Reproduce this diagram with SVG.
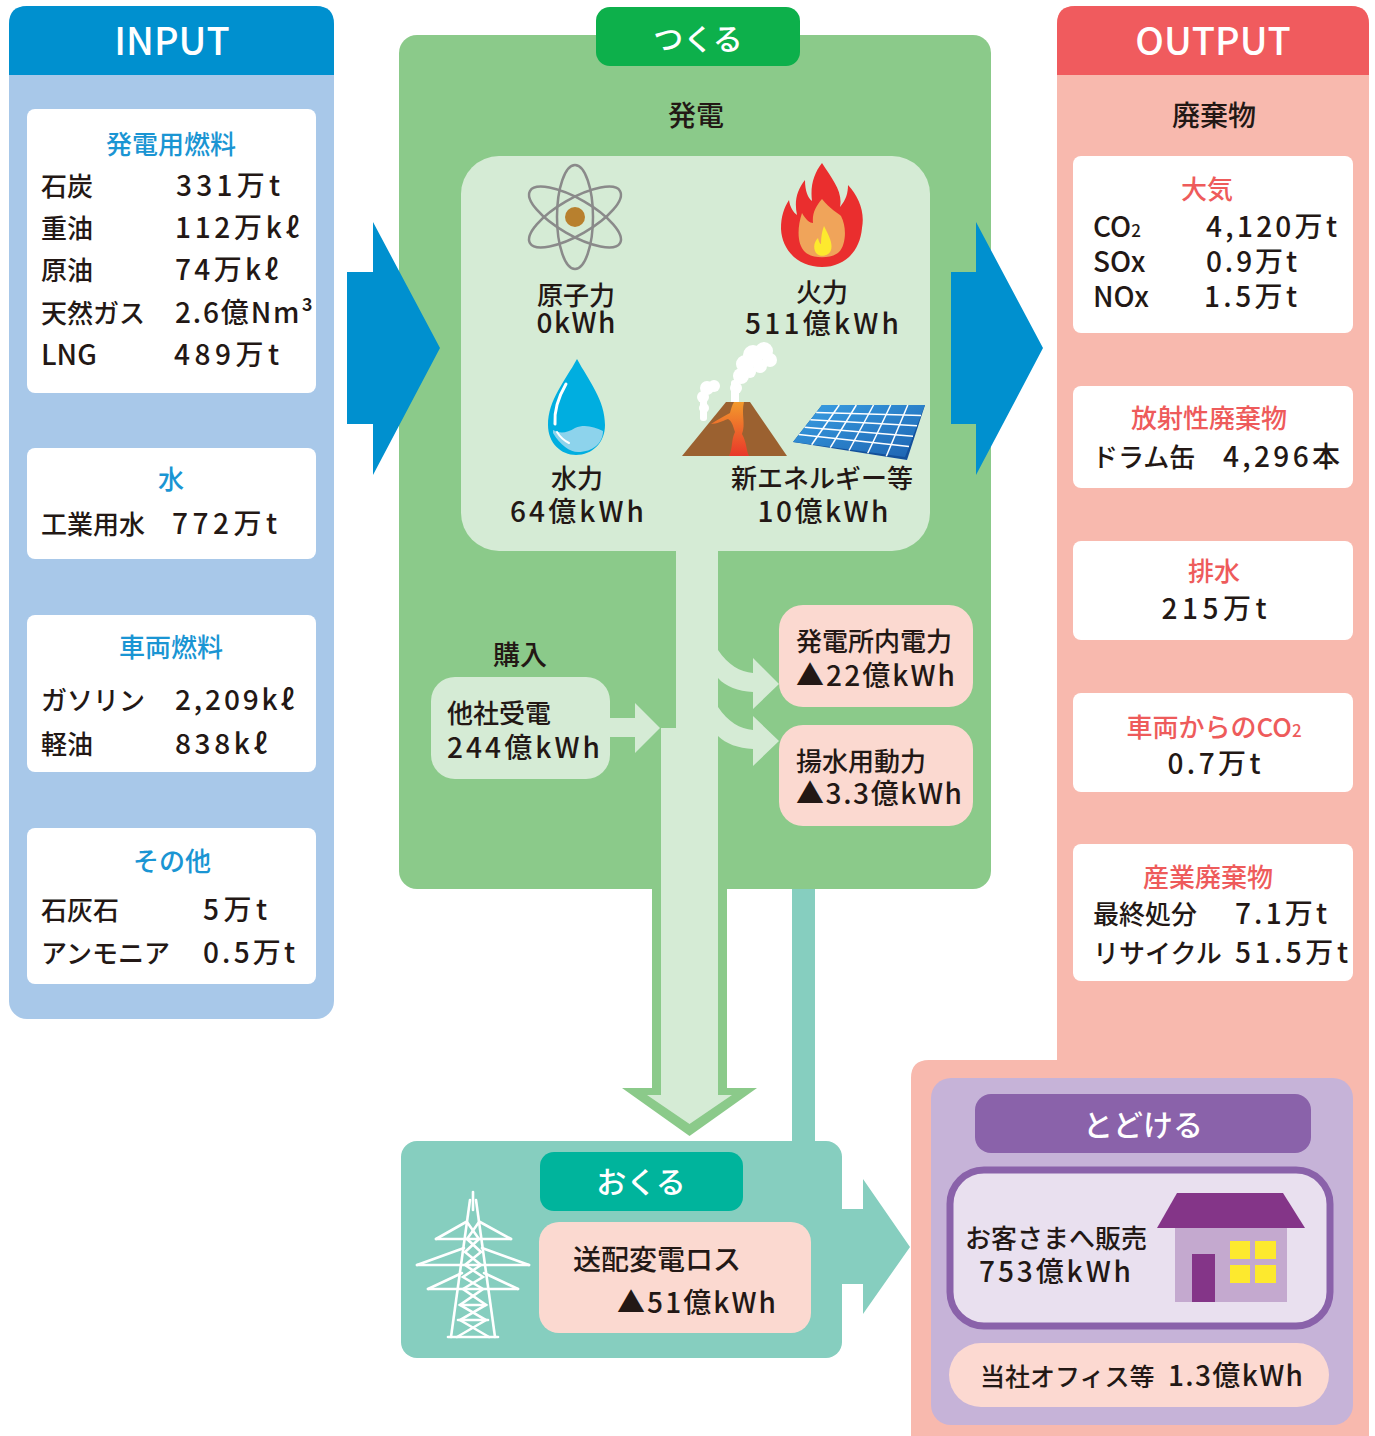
<svg xmlns="http://www.w3.org/2000/svg" width="1375" height="1436" viewBox="0 0 1375 1436">
  <style>
    .t { font-family: "Noto Sans CJK JP", "Noto Sans", sans-serif; font-weight: 500; fill: #231815; font-size: 26px; }
    .n { font-size: 28px; }
    .h { font-size: 38px; fill: #fff; }
    .lbl { font-size: 30px; fill: #fff; }
    .blue { fill: #1a95d3; }
    .red { fill: #ee5b5b; }
    .m { text-anchor: middle; }
    .card { fill: #fff; }
    .pale { fill: #d5ebd5; }
    .pink { fill: #fbd9d0; }
    .grid { stroke: #fff; stroke-width: 1.5; fill: none; }
    .orbit { fill: none; stroke: #8a8a8a; stroke-width: 2.5; }
    .tower { stroke: #fff; stroke-width: 2.6; fill: none; stroke-linecap: round; }
    .smoke { fill: #fff; }
  </style>
  <defs>
    <linearGradient id="solar" x1="0" y1="0" x2="1" y2="1">
      <stop offset="0" stop-color="#3aa0e4"/>
      <stop offset="1" stop-color="#1c62b0"/>
    </linearGradient>
    <linearGradient id="lava" x1="0" y1="0" x2="0" y2="1">
      <stop offset="0" stop-color="#f39a2c"/>
      <stop offset="1" stop-color="#e8382a"/>
    </linearGradient>
  </defs>

  <rect width="1375" height="1436" fill="#fff"/>

  <!-- INPUT column -->
  <g id="input">
    <rect x="9" y="6" width="325" height="1013" rx="18" fill="#a8c8e9"/>
    <path d="M9,75 V24 Q9,6 27,6 H316 Q334,6 334,24 V75 Z" fill="#0090cf"/>
    <text class="t h m" x="172" y="55">INPUT</text>
  </g>
  <g id="input-fuel">
    <rect class="card" x="27" y="109" width="289" height="284" rx="8"/>
    <text class="t blue m" x="171" y="154">発電用燃料</text>
    <text class="t" x="41" y="196">石炭</text>
    <text class="t n" x="176" y="196" textLength="104">331万t</text>
    <text class="t" x="41" y="238">重油</text>
    <text class="t n" x="175" y="238" textLength="124">112万kℓ</text>
    <text class="t" x="41" y="280">原油</text>
    <text class="t n" x="175" y="280" textLength="103">74万kℓ</text>
    <text class="t" x="41" y="323">天然ガス</text>
    <text class="t n" x="175" y="323" textLength="138">2.6億Nm³</text>
    <text class="t n" x="41" y="365">LNG</text>
    <text class="t n" x="174" y="365" textLength="105">489万t</text>
  </g>
  <g id="input-water">
    <rect class="card" x="27" y="448" width="289" height="111" rx="8"/>
    <text class="t blue m" x="171" y="489">水</text>
    <text class="t" x="41" y="534">工業用水</text>
    <text class="t n" x="172" y="534" textLength="105">772万t</text>
  </g>
  <g id="input-vehicle">
    <rect class="card" x="27" y="615" width="289" height="157" rx="8"/>
    <text class="t blue m" x="171" y="657">車両燃料</text>
    <text class="t" x="41" y="710">ガソリン</text>
    <text class="t n" x="175" y="710" textLength="119">2,209kℓ</text>
    <text class="t" x="41" y="754">軽油</text>
    <text class="t n" x="175" y="754" textLength="92">838kℓ</text>
  </g>
  <g id="input-other">
    <rect class="card" x="27" y="828" width="289" height="156" rx="8"/>
    <text class="t blue m" x="172" y="871">その他</text>
    <text class="t" x="41" y="920">石灰石</text>
    <text class="t n" x="203" y="920" textLength="64">5万t</text>
    <text class="t" x="41" y="963">アンモニア</text>
    <text class="t n" x="203" y="963" textLength="92">0.5万t</text>
  </g>

  <!-- OUTPUT column (pink panel wraps down around the delivery block) -->
  <g id="output">
    <path d="M1057,24 Q1057,6 1075,6 H1351 Q1369,6 1369,24 V1436 H911 V1078 Q911,1060 929,1060 H1057 Z" fill="#f8b9ae"/>
    <path d="M1057,75 V24 Q1057,6 1075,6 H1351 Q1369,6 1369,24 V75 Z" fill="#f05b5e"/>
    <text class="t h m" x="1213" y="55">OUTPUT</text>
    <text class="t m" x="1214" y="126" style="font-size:28px">廃棄物</text>
  </g>
  <g id="out-air">
    <rect class="card" x="1073" y="156" width="280" height="177" rx="8"/>
    <text class="t red m" x="1207" y="199">大気</text>
    <text class="t n" x="1093" y="237">CO<tspan style="font-size:17px">2</tspan></text>
    <text class="t n" x="1206" y="237" textLength="131">4,120万t</text>
    <text class="t n" x="1093" y="272">SOx</text>
    <text class="t n" x="1206" y="272" textLength="91">0.9万t</text>
    <text class="t n" x="1093" y="307">NOx</text>
    <text class="t n" x="1204" y="307" textLength="93">1.5万t</text>
  </g>
  <g id="out-radioactive">
    <rect class="card" x="1073" y="386" width="280" height="102" rx="8"/>
    <text class="t red m" x="1209" y="428">放射性廃棄物</text>
    <text class="t" x="1092" y="467">ドラム缶</text>
    <text class="t n" x="1223" y="467" textLength="117">4,296本</text>
  </g>
  <g id="out-drain">
    <rect class="card" x="1073" y="541" width="280" height="99" rx="8"/>
    <text class="t red m" x="1214" y="581">排水</text>
    <text class="t n m" x="1214" y="619" textLength="105">215万t</text>
  </g>
  <g id="out-vehicle-co2">
    <rect class="card" x="1073" y="693" width="280" height="99" rx="8"/>
    <text class="t red m" x="1214" y="737">車両からのCO<tspan style="font-size:17px">2</tspan></text>
    <text class="t n m" x="1214" y="774" textLength="93">0.7万t</text>
  </g>
  <g id="out-industrial">
    <rect class="card" x="1073" y="844" width="280" height="137" rx="8"/>
    <text class="t red m" x="1208" y="887">産業廃棄物</text>
    <text class="t" x="1093" y="924">最終処分</text>
    <text class="t n" x="1235" y="924" textLength="92">7.1万t</text>
    <text class="t" x="1093" y="963">リサイクル</text>
    <text class="t n" x="1235" y="963" textLength="113">51.5万t</text>
  </g>

  <!-- Generation block -->
  <g id="make">
    <rect x="399" y="35" width="592" height="854" rx="18" fill="#8bca8a"/>
    <rect x="596" y="7" width="204" height="59" rx="14" fill="#0db04b"/>
    <text class="t lbl m" x="698" y="50">つくる</text>
    <text class="t m" x="696" y="126" style="font-size:28px">発電</text>
    <rect class="pale" x="461" y="156" width="469" height="395" rx="38"/>
  </g>

  <!-- Flow connectors -->
  <g id="connectors">
    <!-- input / output arrows -->
    <polygon points="347,272 373,272 373,222 440,348 373,475 373,424 347,424" fill="#0090cf"/>
    <polygon points="951,272 976,272 976,222 1043,348 976,475 976,424 951,424" fill="#0090cf"/>
    <!-- main downward flow -->
    <polygon points="652,889 727,889 727,1088 757,1088 689.5,1136 622,1088 652,1088" fill="#8bca8a"/>
    <path class="pale" d="M676,548 H718 V1095 H732 L689.5,1124 L647,1095 H661 V728 H676 Z"/>
    <!-- purchased power -->
    <polygon class="pale" points="609,718 635,718 635,703 660,728 635,753 635,737 609,737"/>
    <!-- station use and pumping branches -->
    <path class="pale" d="M718,650 C728,665 740,672 753,673 V658 L779,684 L753,709 V692 C738,691 726,687 718,678 Z"/>
    <path class="pale" d="M718,707 C728,722 740,729 753,730 V716 L779,741 L753,766 V749 C738,748 726,744 718,736 Z"/>
    <!-- transmission to delivery -->
    <rect x="792" y="889" width="23" height="254" fill="#86cebf"/>
    <polygon points="838,1209 863,1209 863,1179 910,1247 863,1314 863,1284 838,1284" fill="#86cebf"/>
  </g>

  <g id="nuclear">
    <ellipse class="orbit" cx="575" cy="217" rx="18" ry="52"/>
    <ellipse class="orbit" cx="575" cy="217" rx="18" ry="52" transform="rotate(60 575 217)"/>
    <ellipse class="orbit" cx="575" cy="217" rx="18" ry="52" transform="rotate(-60 575 217)"/>
    <circle cx="575" cy="217" r="10" fill="#b8802e"/>
    <text class="t m" x="576" y="305">原子力</text>
    <text class="t n m" x="576" y="333" textLength="79">0kWh</text>
  </g>
  <g id="thermal">
    <path d="M822,163 C833,180 843,192 840,207 C846,200 848,193 848,185 C859,197 865,212 862,228 C860,252 844,267 822,267 C799,267 782,251 781,229 C781,216 784,208 789,200 C790,207 793,212 797,215 C794,201 797,190 805,180 C805,191 808,198 812,201 C810,186 814,173 822,163 Z" fill="#ea2e2e"/>
    <path d="M822,199 C830,209 838,213 841,216 C847,227 846,245 839,252 C832,259 812,259 805,252 C797,244 797,228 802,213 C806,220 810,223 813,223 C812,213 816,206 822,199 Z" fill="#f0a45a"/>
    <path d="M824,226 C829,236 833,243 831,250 C829,257 817,258 815,251 C813,246 815,241 818,238 C819,242 820,244 821,244 C821,237 822,231 824,226 Z" fill="#fde92e"/>
    <text class="t m" x="822" y="302">火力</text>
    <text class="t n m" x="822" y="334" textLength="154">511億kWh</text>
  </g>
  <g id="hydro">
    <path d="M577,359 C565,381 548,400 548,425 C548,443 561,455 576,455 C592,455 605,443 605,425 C605,400 589,381 577,359 Z" fill="#00aee0"/>
    <path d="M553,433 C560,445 570,452 578,452 C593,452 603,443 603,431 C594,427 585,424 575,428 C567,433 560,434 553,430 Z" fill="#8dd3ec"/>
    <path d="M566,384 C559,396 554,410 555,424" stroke="#fff" stroke-width="3" fill="none" stroke-linecap="round"/>
    <path d="M557,432 C560,437 565,441 569,443" stroke="#fff" stroke-width="2" fill="none" stroke-linecap="round"/>
    <text class="t m" x="577" y="488">水力</text>
    <text class="t n m" x="577" y="522" textLength="134">64億kWh</text>
  </g>
  <g id="renewable">
    <!-- geothermal volcano with steam -->
    <g class="smoke">
      <rect x="700" y="400" width="7" height="21" rx="3"/>
      <circle cx="704" cy="408" r="5"/>
      <circle cx="703" cy="397" r="6"/>
      <circle cx="707" cy="388" r="7"/>
      <circle cx="714" cy="386" r="6"/>
      <rect x="731" y="380" width="8" height="24" rx="3"/>
      <circle cx="736" cy="388" r="6"/>
      <circle cx="741" cy="376" r="8"/>
      <circle cx="745" cy="364" r="9"/>
      <circle cx="753" cy="355" r="10"/>
      <circle cx="764" cy="351" r="9"/>
      <circle cx="770" cy="360" r="7"/>
      <circle cx="760" cy="366" r="7"/>
      <circle cx="750" cy="372" r="6"/>
    </g>
    <polygon points="682,456 726,402 750,402 787,456" fill="#9b6130"/>
    <path d="M734,402 H744 C741,414 746,424 742,434 C747,443 746,450 749,456 H729 C733,448 731,440 735,432 C733,426 732,421 728,419 C722,421 717,424 711,424 C717,420 724,416 730,413 C731,409 732,405 734,402 Z" fill="url(#lava)"/>
    <!-- solar panel -->
    <polygon points="822,405 925,405 907,460 793,442" fill="#13509a"/>
    <polygon points="822,405 925,405 905,457 793,442" fill="url(#solar)"/>
    <g class="grid">
      <line x1="839.2" y1="405" x2="811.7" y2="444.8"/>
      <line x1="856.3" y1="405" x2="830.3" y2="447.7"/>
      <line x1="873.5" y1="405" x2="849" y2="450.5"/>
      <line x1="890.7" y1="405" x2="867.7" y2="453.3"/>
      <line x1="907.8" y1="405" x2="886.3" y2="456.2"/>
      <line x1="816.2" y1="412.4" x2="921" y2="415.4"/>
      <line x1="810.4" y1="419.8" x2="917" y2="425.8"/>
      <line x1="804.6" y1="427.2" x2="913" y2="436.2"/>
      <line x1="798.8" y1="434.6" x2="909" y2="446.6"/>
    </g>
    <text class="t m" x="822" y="488">新エネルギー等</text>
    <text class="t n m" x="823" y="522" textLength="131">10億kWh</text>
  </g>

  <g id="purchase">
    <text class="t m" x="520" y="665" style="font-size:27px">購入</text>
    <rect class="pale" x="431" y="677" width="179" height="102" rx="24"/>
    <text class="t" x="447" y="723">他社受電</text>
    <text class="t n" x="447" y="758" textLength="153">244億kWh</text>
  </g>
  <g id="station-use">
    <rect class="pink" x="779" y="605" width="194" height="102" rx="24"/>
    <text class="t" x="796" y="651">発電所内電力</text>
    <text class="t n" x="796" y="686" textLength="159">▲22億kWh</text>
  </g>
  <g id="pumping">
    <rect class="pink" x="779" y="725" width="194" height="101" rx="24"/>
    <text class="t" x="796" y="771">揚水用動力</text>
    <text class="t n" x="796" y="804" textLength="166">▲3.3億kWh</text>
  </g>

  <!-- Transmission block -->
  <g id="send">
    <rect x="401" y="1141" width="441" height="217" rx="16" fill="#86cebf"/>
    <rect x="540" y="1152" width="203" height="59" rx="14" fill="#00b49c"/>
    <text class="t lbl m" x="641" y="1193">おくる</text>
    <rect class="pink" x="539" y="1222" width="272" height="111" rx="20"/>
    <text class="t" x="573" y="1270" style="font-size:28px">送配変電ロス</text>
    <text class="t n" x="617" y="1313" textLength="159">▲51億kWh</text>
    <g class="tower">
      <line x1="473" y1="1192" x2="473" y2="1210"/>
      <line x1="470" y1="1200" x2="451" y2="1337"/>
      <line x1="476" y1="1200" x2="495" y2="1337"/>
      <line x1="436" y1="1239" x2="511" y2="1239"/>
      <line x1="436" y1="1239" x2="466" y2="1222"/>
      <line x1="511" y1="1239" x2="480" y2="1222"/>
      <line x1="417" y1="1265" x2="529" y2="1265"/>
      <line x1="417" y1="1265" x2="464" y2="1248"/>
      <line x1="529" y1="1265" x2="482" y2="1248"/>
      <line x1="428" y1="1289" x2="518" y2="1289"/>
      <line x1="428" y1="1289" x2="462" y2="1273"/>
      <line x1="518" y1="1289" x2="484" y2="1273"/>
      <polyline points="467,1222 479,1239 465,1252 481,1265 463,1277 483,1289 460,1305 486,1320 457,1337"/>
      <polyline points="479,1222 467,1239 481,1252 465,1265 483,1277 463,1289 486,1305 460,1320 489,1337"/>
      <line x1="460" y1="1305" x2="486" y2="1305"/>
      <line x1="458" y1="1320" x2="488" y2="1320"/>
      <line x1="448" y1="1337" x2="498" y2="1337"/>
    </g>
  </g>

  <!-- Delivery block -->
  <g id="deliver">
    <rect x="931" y="1078" width="422" height="347" rx="20" fill="#c6b3d8"/>
    <rect x="975" y="1094" width="336" height="59" rx="16" fill="#8a62aa"/>
    <text class="t lbl m" x="1143" y="1136">とどける</text>
    <rect x="950" y="1170" width="380" height="156" rx="34" fill="#e9e0ef" stroke="#8a62aa" stroke-width="7"/>
    <text class="t" x="965" y="1248">お客さまへ販売</text>
    <text class="t n" x="979" y="1282" textLength="152">753億kWh</text>
    <polygon points="1157,1228 1177,1193 1283,1193 1305,1228" fill="#843588"/>
    <rect x="1175" y="1228" width="112" height="74" fill="#c4a9cf"/>
    <rect x="1192" y="1254" width="23" height="48" fill="#843588"/>
    <rect x="1230" y="1241" width="20" height="18" fill="#fde92e"/>
    <rect x="1255" y="1241" width="21" height="18" fill="#fde92e"/>
    <rect x="1230" y="1265" width="20" height="18" fill="#fde92e"/>
    <rect x="1255" y="1265" width="21" height="18" fill="#fde92e"/>
  </g>
  <g id="office">
    <rect x="949" y="1343" width="380" height="64" rx="32" fill="#fcd9d1"/>
    <text class="t" x="980" y="1386" style="font-size:25px">当社オフィス等</text>
    <text class="t n" x="1168" y="1386" textLength="135">1.3億kWh</text>
  </g>
</svg>
